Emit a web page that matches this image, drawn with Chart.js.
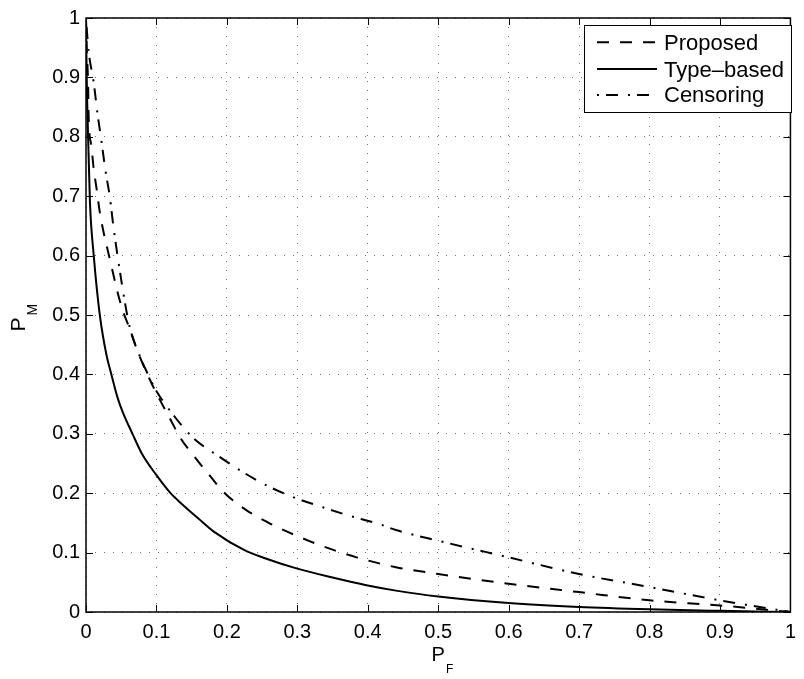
<!DOCTYPE html>
<html>
<head>
<meta charset="utf-8">
<script src="https://cdn.jsdelivr.net/npm/chart.js@4.4.0/dist/chart.umd.min.js"></script>
<style>
html,body{margin:0;padding:0;background:#fff;}
#wrap{width:804px;height:679px;position:relative;}
</style>
</head>
<body>
<div id="wrap"><canvas id="c"></canvas></div>
<script>
// ---- data ----
const seriesNames = ['Proposed', 'Type–based', 'Censoring'];

const proposedX = [0, 0.001, 0.003, 0.0037, 0.0075, 0.011, 0.0157, 0.0196, 0.0346, 0.0504, 0.0616, 0.0733, 0.0896, 0.101, 0.1186, 0.134, 0.155, 0.176, 0.197, 0.227, 0.258, 0.288, 0.318, 0.351, 0.384, 0.44, 0.5, 0.6, 0.7, 0.8, 0.9, 1];
const proposedY = [1, 0.95, 0.888, 0.835, 0.785, 0.746, 0.707, 0.673, 0.59, 0.514, 0.478, 0.4386, 0.394, 0.366, 0.327, 0.293, 0.26, 0.229, 0.2, 0.172, 0.151, 0.134, 0.119, 0.1045, 0.092, 0.0754, 0.064, 0.0475, 0.0335, 0.0196, 0.011, 0];

const typeX = [0, 0.001, 0.003, 0.0056, 0.011, 0.0196, 0.029, 0.036, 0.045, 0.053, 0.066, 0.08, 0.099, 0.12, 0.136, 0.16, 0.183, 0.225, 0.253, 0.30, 0.35, 0.398, 0.44, 0.5, 0.6, 0.7, 0.8, 0.9, 1];
const typeY = [1, 0.9, 0.8, 0.69, 0.6, 0.5, 0.433, 0.4, 0.36, 0.334, 0.3, 0.265, 0.232, 0.2, 0.182, 0.157, 0.134, 0.104, 0.091, 0.073, 0.058, 0.045, 0.036, 0.026, 0.015, 0.0084, 0.0045, 0.002, 0];

const censX = [0, 0.0015, 0.0037, 0.011, 0.016, 0.022, 0.0278, 0.0339, 0.0388, 0.0509, 0.0616, 0.0733, 0.0896, 0.101, 0.127, 0.141, 0.155, 0.1877, 0.220, 0.2577, 0.295, 0.337, 0.374, 0.4164, 0.44, 0.5, 0.6, 0.7, 0.8, 0.9, 1];
const censY = [1, 0.975, 0.944, 0.891, 0.842, 0.792, 0.742, 0.698, 0.65, 0.5525, 0.482, 0.44, 0.396, 0.37, 0.327, 0.307, 0.29, 0.2626, 0.2375, 0.2123, 0.193, 0.176, 0.162, 0.148, 0.138, 0.12, 0.092, 0.064, 0.042, 0.0196, 0];

const tickValues = [0, 0.1, 0.2, 0.3, 0.4, 0.5, 0.6, 0.7, 0.8, 0.9, 1];
const tickLabels = ['0', '0.1', '0.2', '0.3', '0.4', '0.5', '0.6', '0.7', '0.8', '0.9', '1'];
const xTitle = ['P', 'F'];
const yTitle = ['P', 'M'];

// ---- styles ----
const FONT = '"Liberation Sans", Arial, Helvetica, sans-serif';
const dashStyles = [[12, 11], [], [2, 7, 12, 10]];

function pts(xs, ys) { return xs.map((x, i) => ({x: x, y: ys[i]})); }

const datasets = [
  {label: seriesNames[0], data: pts(proposedX, proposedY)},
  {label: seriesNames[1], data: pts(typeX, typeY)},
  {label: seriesNames[2], data: pts(censX, censY)}
].map((d, i) => Object.assign(d, {
  borderColor: '#000', backgroundColor: '#000', borderWidth: 2,
  borderDash: dashStyles[i], borderCapStyle: 'butt', borderJoinStyle: 'round',
  pointRadius: 0, fill: false, cubicInterpolationMode: 'monotone'
}));

function labelFor(v) {
  const i = tickValues.findIndex(t => Math.abs(t - v) < 1e-6);
  return i >= 0 ? tickLabels[i] : '';
}

const decorPlugin = {
  id: 'decor',
  afterDraw(chart) {
    const ctx = chart.ctx;
    const a = chart.chartArea;
    const xs = chart.scales.x, ys = chart.scales.y;
    ctx.save();
    // frame
    ctx.strokeStyle = '#000';
    ctx.lineWidth = 1.5;
    ctx.setLineDash([]);
    ctx.strokeRect(a.left, a.top, a.right - a.left, a.bottom - a.top);
    // inward ticks on all four sides
    ctx.lineWidth = 1;
    const tl = 7;
    ctx.beginPath();
    tickValues.forEach(v => {
      const px = Math.round(xs.getPixelForValue(v)) + 0.5;
      ctx.moveTo(px, a.bottom); ctx.lineTo(px, a.bottom - tl);
      ctx.moveTo(px, a.top); ctx.lineTo(px, a.top + tl);
      const py = Math.round(ys.getPixelForValue(v)) + 0.5;
      ctx.moveTo(a.left, py); ctx.lineTo(a.left + tl, py);
      ctx.moveTo(a.right, py); ctx.lineTo(a.right - tl, py);
    });
    ctx.stroke();

    // legend box
    const lx = 584, ly = 25, lw = 207, lh = 87;
    ctx.fillStyle = '#fff';
    ctx.fillRect(lx, ly, lw, lh);
    ctx.strokeStyle = '#000';
    ctx.lineWidth = 1;
    ctx.strokeRect(lx + 0.5, ly + 0.5, lw, lh);
    const rowMid = [42.3, 69, 95];
    const rowBase = [50, 76.7, 102.3];
    chart.data.datasets.forEach((ds, i) => {
      ctx.beginPath();
      ctx.lineWidth = 2;
      ctx.lineCap = 'butt';
      ctx.setLineDash(ds.borderDash);
      ctx.moveTo(597, rowMid[i]);
      ctx.lineTo(657, rowMid[i]);
      ctx.stroke();
      ctx.setLineDash([]);
      ctx.fillStyle = '#000';
      ctx.font = '22px ' + FONT;
      ctx.textAlign = 'left';
      ctx.textBaseline = 'alphabetic';
      ctx.fillText(ds.label, 664, rowBase[i]);
    });

    // x axis title P_F
    ctx.fillStyle = '#000';
    ctx.textBaseline = 'alphabetic';
    ctx.textAlign = 'left';
    ctx.font = '20px ' + FONT;
    ctx.fillText(xTitle[0], 431.5, 660.5);
    ctx.font = '12px ' + FONT;
    ctx.fillText(xTitle[1], 446, 672.5);

    // y axis title P_M (rotated)
    ctx.save();
    ctx.translate(25, 331.5);
    ctx.rotate(-Math.PI / 2);
    ctx.font = '21px ' + FONT;
    ctx.fillText(yTitle[0], 0, 0);
    ctx.font = '14px ' + FONT;
    ctx.fillText(yTitle[1], 16, 12.3);
    ctx.restore();

    ctx.restore();
  }
};

new Chart(document.getElementById('c'), {
  type: 'line',
  data: {datasets: datasets},
  options: {
    responsive: true,
    maintainAspectRatio: false,
    animation: false,
    layout: {padding: {left: 0, right: 4, top: 15, bottom: 0}},
    plugins: {legend: {display: false}, tooltip: {enabled: false}},
    scales: {
      x: {
        type: 'linear', min: 0, max: 1,
        afterFit(s) { s.height = 67; },
        afterBuildTicks(s) { s.ticks = tickValues.map(v => ({value: v})); },
        ticks: {
          callback: v => labelFor(v), padding: 8, maxRotation: 0, autoSkip: false,
          color: '#000', font: {family: FONT, size: 20}
        },
        grid: {color: 'rgba(0,0,0,0.55)', lineWidth: 1, drawTicks: false},
        border: {display: false, dash: [1, 8]}
      },
      y: {
        type: 'linear', min: 0, max: 1,
        afterFit(s) { s.width = 86; },
        afterBuildTicks(s) { s.ticks = tickValues.map(v => ({value: v})); },
        ticks: {
          callback: v => labelFor(v), padding: 6, autoSkip: false,
          color: '#000', font: {family: FONT, size: 20}
        },
        grid: {color: 'rgba(0,0,0,0.55)', lineWidth: 1, drawTicks: false},
        border: {display: false, dash: [1, 8]}
      }
    }
  },
  plugins: [decorPlugin]
});
</script>
</body>
</html>
